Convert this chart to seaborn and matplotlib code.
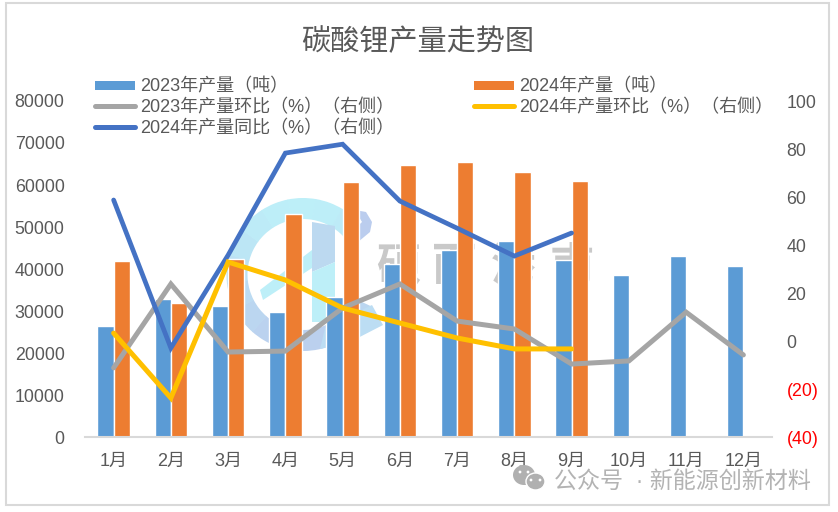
import matplotlib
matplotlib.use("Agg")
import matplotlib.pyplot as plt
import numpy as np
import pandas as pd
import seaborn as sns
from matplotlib.patches import Rectangle, Wedge, Polygon, Ellipse
from matplotlib.colors import to_rgb

sns.set_theme(style="white")
plt.rcParams['font.family'] = ['Liberation Sans', 'Noto Sans CJK SC']

months = ['1月','2月','3月','4月','5月','6月','7月','8月','9月','10月','11月','12月']
output_2023 = [26430,32860,31190,29760,33330,41190,44500,46700,42200,38600,43100,40700]
output_2024 = [41900,31900,42400,53100,60700,64800,65500,63100,61000]
mom_2023 = [-11.2,23.75,-4.6,-4.2,13.75,23.75,8.3,5,-9.6,-8.3,12,-5.8]
mom_2024 = [3.3,-23.75,32.9,25.4,13.75,7.5,1.25,-3.3,-3.3]
yoy_2024 = [58.75,-2.9,35.8,78.3,82,58.3,47,35.4,45]

name_bar23 = '2023年产量（吨）'
name_bar24 = '2024年产量（吨）'
name_m23 = '2023年产量环比（%）（右侧）'
name_m24 = '2024年产量环比（%）（右侧）'
name_y24 = '2024年产量同比（%）（右侧）'

W, H = 838, 512
fig = plt.figure(figsize=(W/100, H/100), dpi=100)
GREY = '#595959'
ax = fig.add_axes([85/W, 1-437/H, (772-85)/W, (437-101)/H])
ax.set_zorder(2); ax.patch.set_alpha(0)

# outer frame
fig.add_artist(Rectangle((6/W, 1-505/H), 823/W, 502/H, transform=fig.transFigure,
                         fill=False, ec='#D9D9D9', lw=1.5))

# watermark
wm = fig.add_axes([0, 0, 1, 1], zorder=1)
wm.set_xlim(0, W); wm.set_ylim(H, 0); wm.axis('off')
c_top, c_bot = np.array(to_rgb('#BDEFF8')), np.array(to_rgb('#BBD0EE'))
steps = 14
edges = np.linspace(25, 322, steps + 1)
for i in range(steps):
    mid = (edges[i] + edges[i+1]) / 2
    f = (1 - np.sin(np.radians(mid))) / 2
    wm.add_patch(Wedge((303, 274.5), 76.5, edges[i], edges[i+1] + 0.5, width=21,
                       fc=c_bot + (c_top - c_bot) * f, ec='none'))
wm.add_patch(Polygon([(355,210),(366,212),(372,222),(370,232),(358,242),(352,232),(362,222)],
                     fc='#BBCDEE', ec='none'))
wm.add_patch(Polygon([(320,349),(350,342),(383,325),(372,305),(345,318),(325,328)],
                     fc='#BCDDF3', ec='none'))
wm.add_patch(Polygon([(312,222),(335,226),(335,262),(312,272)], fc='#BCD9F0', ec='none'))
wm.add_patch(Polygon([(312,272),(335,262),(335,322),(312,322)], fc='#BDEFF8', ec='none'))
wm.add_patch(Polygon([(260,290),(263,300),(312,268),(312,250)], fc='#BDEFF8', ec='none'))
wm.add_patch(Polygon([(312,250),(312,268),(335,253),(335,235)], fc='#BCD9F0', ec='none'))
for wx, ch in zip([398, 454, 513, 572], ['硕', '而', '港', '甫']):
    wm.text(wx, 268, ch, color='#C9C9C9', fontsize=32, fontweight='bold', ha='center', va='center')

df23 = pd.DataFrame({'month': months, 'value': output_2023, 'series': name_bar23})
df24 = pd.DataFrame({'month': months[:len(output_2024)], 'value': output_2024, 'series': name_bar24})
dfb = pd.concat([df23, df24])
sns.barplot(data=dfb, x='month', y='value', hue='series', order=months,
            palette=['#5B9BD5', '#ED7D31'], width=0.57, gap=0, saturation=1,
            ax=ax, legend=False, zorder=2)
ax.set_xlim(-0.5, 11.5)
ax.set_ylim(0, 80000)
ax.set_yticks(range(0, 80001, 10000))
ax.set_xlabel(''); ax.set_ylabel('')
for s in ['top', 'left', 'right']:
    ax.spines[s].set_visible(False)
ax.spines['bottom'].set_color('#D9D9D9'); ax.spines['bottom'].set_linewidth(1.5)
ax.tick_params(axis='y', length=0, labelsize=12.8, labelcolor=GREY, pad=14.7)
ax.set_xticks(np.arange(12))
ax.set_xticklabels(months)
ax.tick_params(axis='x', length=0, labelsize=13, labelcolor=GREY, pad=11.5)
ax.set_xticks(np.arange(-0.5, 12), minor=True)
ax.tick_params(axis='x', which='minor', length=5, width=1.5, color='#D9D9D9', direction='out')

ax2 = ax.twinx()
ax2.set_zorder(3); ax2.patch.set_alpha(0)
x = np.arange(12)
sns.lineplot(x=x, y=mom_2023, color='#A5A5A5', lw=3.6, ax=ax2, errorbar=None)
sns.lineplot(x=x[:9], y=yoy_2024, color='#4472C4', lw=3.4, ax=ax2, errorbar=None)
sns.lineplot(x=x[:9], y=mom_2024, color='#FFC000', lw=3.6, ax=ax2, errorbar=None)
for l in ax2.get_lines():
    l.set_solid_capstyle('round'); l.set_solid_joinstyle('miter')
ax2.set_ylim(-40, 100)
ax2.set_yticks(range(-40, 101, 20))
ax2.set_yticklabels(['(40)', '(20)', '0', '20', '40', '60', '80', '100'])
for s in ax2.spines.values():
    s.set_visible(False)
ax2.tick_params(axis='y', length=0, labelsize=12.8, labelcolor=GREY, pad=10.4)
for lab in ax2.get_yticklabels()[:2]:
    lab.set_color('#FF0000')
ax2.grid(False); ax.grid(False)

fig.text(418/W, 1-42/H, '碳酸锂产量走势图', fontsize=21, color=GREY, ha='center', va='center')

def key(px, py, color, bar=False):
    if bar:
        fig.add_artist(Rectangle((px/W, 1-(py+4.5)/H), 40/W, 9/H, transform=fig.transFigure,
                                 fc=color, ec='none'))
    else:
        fig.add_artist(plt.Line2D([px/W, (px+40)/W], [1-py/H, 1-py/H], color=color, lw=3.6,
                                  solid_capstyle='round', transform=fig.transFigure))
for px, py, col, bar, txt in [
    (95, 85, '#5B9BD5', True, name_bar23),
    (474, 85, '#ED7D31', True, name_bar24),
    (95, 106, '#A5A5A5', False, name_m23),
    (474, 106, '#FFC000', False, name_m24),
    (95, 127, '#4472C4', False, name_y24)]:
    key(px, py, col, bar)
    fig.text((px+45)/W, 1-(py+1.5)/H, txt, fontsize=13, color=GREY, ha='left', va='center', zorder=5)

# source mark
fig.text(811/W, 1-481/H, '公众号  · 新能源创新材料', fontsize=16.6, color='#B3B3B3',
         ha='right', va='center', zorder=6)
wm2 = fig.add_axes([0, 0, 1, 1], zorder=5)
wm2.set_xlim(0, W); wm2.set_ylim(H, 0); wm2.axis('off')
wm2.add_patch(Ellipse((524, 475), 22, 20, fc='#B0B0B0', ec='none'))
wm2.add_patch(Ellipse((535.5, 481.5), 19, 17, fc='#B0B0B0', ec='white', lw=1))
for ex, ey in [(520, 472), (528, 472), (531, 480), (540, 480)]:
    wm2.add_patch(plt.Circle((ex, ey), 1.4, fc='white', ec='none'))

fig.savefig('out.png', dpi=100)
